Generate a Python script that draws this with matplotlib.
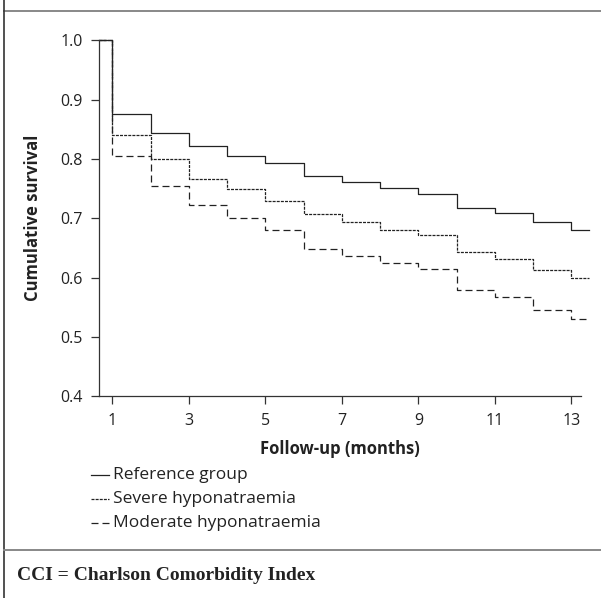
import matplotlib
matplotlib.use("Agg")
import matplotlib.pyplot as plt
from matplotlib.lines import Line2D

# ---- data ----
months = [1, 2, 3, 4, 5, 6, 7, 8, 9, 10, 11, 12, 13]
reference_group = [0.876, 0.843, 0.822, 0.805, 0.793, 0.771, 0.762, 0.751, 0.741, 0.718, 0.709, 0.694, 0.680]
severe_hypo = [0.840, 0.800, 0.767, 0.749, 0.730, 0.708, 0.694, 0.681, 0.672, 0.644, 0.632, 0.613, 0.600]
moderate_hypo = [0.805, 0.755, 0.723, 0.700, 0.680, 0.649, 0.636, 0.625, 0.615, 0.580, 0.568, 0.545, 0.531]
series_labels = ["Reference group", "Severe hyponatraemia", "Moderate hyponatraemia"]
x_ticks = [1, 3, 5, 7, 9, 11, 13]
y_ticks = [0.4, 0.5, 0.6, 0.7, 0.8, 0.9, 1.0]
start_time = 0.66
end_time = 13.45

plt.rcParams['font.family'] = ['Open Sans', 'DejaVu Sans']

W, H = 601, 598
fig = plt.figure(figsize=(W / 100, H / 100), dpi=100)
fig.patch.set_facecolor("white")

ax = fig.add_axes([99.3 / W, 1 - 396.3 / H, (581.4 - 99.3) / W, (396.3 - 40.3) / H])
ax.set_xlim(start_time, 13.26)
ax.set_ylim(0.4, 1.0)

col = "#222222"
styles = ["-", (0, (2.4, 0.9)), (0, (5.6, 3.2))]
for vals, ls in zip([reference_group, severe_hypo, moderate_hypo], styles):
    t = [start_time] + months + [end_time]
    v = [1.0] + vals + [vals[-1]]
    ax.step(t, v, where="post", color=col, lw=0.9, linestyle=ls, clip_on=False)

for s in ["top", "right"]:
    ax.spines[s].set_visible(False)
for s in ["left", "bottom"]:
    ax.spines[s].set_color("#333333")
    ax.spines[s].set_linewidth(0.9)

ax.set_xticks(x_ticks)
ax.set_xticklabels([str(x) for x in x_ticks])
ax.set_yticks(y_ticks)
ax.set_yticklabels(["%.1f" % y for y in y_ticks])
ax.tick_params(axis="both", direction="out", length=6, width=0.9, color="#333333",
               labelsize=11.5, labelcolor="#222222")
ax.tick_params(axis="x", pad=6)
ax.tick_params(axis="y", pad=6)

ax.set_ylabel("Cumulative survival", fontsize=12, fontweight="bold", color="#222222", labelpad=13)
ax.set_xlabel("Follow-up (months)", fontsize=12, fontweight="bold", color="#222222", labelpad=8)

# legend (manual, below axes)
leg_y = [475, 499, 523]
for lab, ls, yy in zip(series_labels, styles, leg_y):
    yf = 1 - yy / H
    fig.add_artist(Line2D([91 / W, 109 / W], [yf, yf], color=col, lw=0.9, linestyle=ls))
    fig.text(113 / W, yf, lab, fontsize=12.5, color="#222222", va="center", ha="left")

# frame lines
fig.add_artist(Line2D([3.5 / W, 1], [1 - 11 / H, 1 - 11 / H], color="#888888", lw=1.4))
fig.add_artist(Line2D([3.5 / W, 3.5 / W], [0, 1], color="#333333", lw=1.2))
fig.add_artist(Line2D([3.5 / W, 1], [1 - 550 / H, 1 - 550 / H], color="#888888", lw=1.4))

fig.text(17 / W, 1 - 576 / H, "CCI = Charlson Comorbidity Index", fontsize=14,
         fontweight="bold", family=["Liberation Serif"], color="#222222", va="center", ha="left")

fig.savefig("out.png", dpi=100, facecolor="white")
